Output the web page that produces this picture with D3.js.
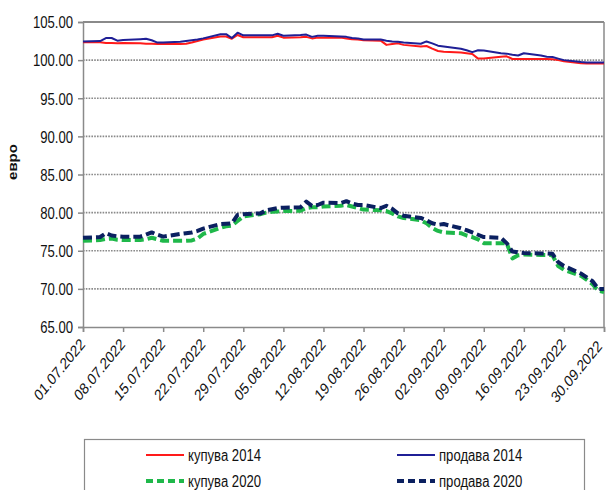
<!DOCTYPE html>
<html><head><meta charset="utf-8">
<script src="https://cdn.jsdelivr.net/npm/d3@7"></script>
<style>body{margin:0;background:#fff;overflow:hidden}</style>
</head><body><svg id="c" width="607" height="490"></svg>
<script>
const dates = ["01.07.2022","04.07.2022","05.07.2022","06.07.2022","07.07.2022","08.07.2022",
"11.07.2022","12.07.2022","13.07.2022","14.07.2022","15.07.2022",
"18.07.2022","19.07.2022","20.07.2022","21.07.2022","22.07.2022",
"25.07.2022","26.07.2022","27.07.2022","28.07.2022","29.07.2022",
"01.08.2022","02.08.2022","03.08.2022","04.08.2022","05.08.2022",
"08.08.2022","09.08.2022","10.08.2022","11.08.2022","12.08.2022",
"15.08.2022","16.08.2022","17.08.2022","18.08.2022","19.08.2022",
"22.08.2022","23.08.2022","24.08.2022","25.08.2022","26.08.2022",
"29.08.2022","30.08.2022","31.08.2022","01.09.2022","02.09.2022",
"05.09.2022","06.09.2022","07.09.2022","08.09.2022","09.09.2022",
"12.09.2022","13.09.2022","14.09.2022","15.09.2022","16.09.2022",
"19.09.2022","20.09.2022","21.09.2022","22.09.2022","23.09.2022",
"26.09.2022","27.09.2022","28.09.2022","29.09.2022","30.09.2022"];

const buy2014 = [102.35,102.35,102.25,102.25,102.2,102.25,
102.2,102.15,102.15,102.1,102.1,
102.1,102.15,102.3,102.5,102.7,
103.1,103.1,102.8,103.3,103.0,
103.0,103.0,103.0,103.2,102.95,
103.0,103.05,102.85,102.95,102.95,
102.95,102.85,102.75,102.7,102.6,
102.55,102.0,102.1,102.2,102.0,
101.8,101.85,101.5,101.2,101.1,
101.0,100.9,100.8,100.2,100.2,
100.45,100.5,100.15,100.15,100.15,
100.15,100.15,100.1,100.0,99.85,
99.6,99.55,99.55,99.55,99.55];

const sell2014 = [102.45,102.5,102.9,102.9,102.55,102.65,
102.75,102.8,102.6,102.3,102.3,
102.4,102.5,102.6,102.7,102.85,
103.4,103.4,102.9,103.6,103.25,
103.25,103.25,103.25,103.45,103.2,
103.3,103.35,103.05,103.2,103.2,
103.1,103.05,102.9,102.85,102.7,
102.7,102.55,102.45,102.4,102.3,
102.15,102.45,102.2,101.9,101.8,
101.5,101.3,101.05,101.3,101.25,
100.9,100.85,100.7,100.6,100.9,
100.6,100.45,100.4,100.2,100.0,
99.75,99.7,99.7,99.7,99.7];

const buy2020 = [76.3,76.4,76.55,76.6,76.45,76.4,
76.4,76.5,76.7,76.5,76.3,
76.3,76.3,76.35,76.6,77.2,
78.0,78.2,78.3,78.9,79.5,
79.8,80.0,80.1,80.15,80.2,
80.25,80.6,80.7,80.7,80.8,
80.9,81.0,80.8,80.6,80.4,
80.3,80.2,79.9,79.5,79.3,
79.0,78.6,78.0,77.6,77.4,
77.3,77.0,76.8,76.5,76.0,
76.0,76.0,74.0,74.4,74.5,
74.45,74.45,74.4,73.0,72.5,
71.7,71.2,70.6,69.75,69.6];

const sell2020 = [76.7,76.8,77.3,77.0,76.9,76.85,
76.85,77.1,77.4,77.1,76.85,
77.2,77.3,77.4,77.6,77.9,
78.5,78.55,78.6,79.7,79.8,
79.9,80.3,80.45,80.6,80.65,
80.7,81.45,80.9,81.0,81.3,
81.25,81.5,81.2,81.0,81.0,
80.6,80.9,80.5,79.9,79.6,
79.3,79.0,78.6,78.4,78.5,
77.95,77.7,77.4,77.1,76.8,
76.7,76.0,74.9,74.8,74.7,
74.65,74.65,74.6,73.5,73.0,
72.0,71.5,71.0,70.0,70.0];

const yTicks = [65,70,75,80,85,90,95,100,105];
const xTickLabels = ["01.07.2022","08.07.2022","15.07.2022","22.07.2022","29.07.2022",
"05.08.2022","12.08.2022","19.08.2022","26.08.2022","02.09.2022","09.09.2022",
"16.09.2022","23.09.2022","30.09.2022"];
const seriesNames = ["купува 2014","продава 2014","купува 2020","продава 2020"];
const yTitle = "евро";

const parse = d3.timeParse("%d.%m.%Y");
const fmt = d3.timeFormat("%d.%m.%Y");
const SX = 0.82; // horizontal compression of text
const FONT = "'Liberation Sans', Arial, sans-serif";

const svg = d3.select("#c");
const L = 83, R = 604, T = 22, B = 327;
const x = d3.scaleTime().domain([parse(xTickLabels[0]), parse(xTickLabels[xTickLabels.length-1])]).range([L, R]);
const y = d3.scaleLinear().domain([65,105]).range([B, T]);

// gridlines
svg.append("g").selectAll("line").data(yTicks.filter(v => v > 65 && v < 105)).join("line")
  .attr("x1", L).attr("x2", R).attr("y1", d => y(d)).attr("y2", d => y(d))
  .attr("stroke", "#8a8a8a").attr("stroke-width", 1.6).attr("stroke-dasharray", "1.6,1.2");

// frame top & right
svg.append("line").attr("x1", L).attr("x2", R).attr("y1", y(105)).attr("y2", y(105))
  .attr("stroke", "#8a8a8a").attr("stroke-width", 2);
svg.append("line").attr("x1", R).attr("x2", R).attr("y1", T).attr("y2", B)
  .attr("stroke", "#8a8a8a").attr("stroke-width", 1.5);

// y axis
const yAxis = svg.append("g").attr("transform", `translate(${L},0)`)
  .call(d3.axisLeft(y).tickValues(yTicks).tickFormat(d3.format(".2f")).tickSize(5).tickPadding(0));
yAxis.selectAll("path,line").attr("stroke", "#8a8a8a").attr("stroke-width", 1.5);
yAxis.selectAll("text").attr("font-family", FONT).attr("font-size", 16).attr("fill", "#111")
  .attr("text-anchor", "end").attr("x", null).attr("dy", "0.36em")
  .attr("transform", `translate(-10,0) scale(${SX},1)`);

// x axis
const xAxis = svg.append("g").attr("transform", `translate(0,${B})`)
  .call(d3.axisBottom(x).tickValues(xTickLabels.map(parse)).tickFormat(fmt).tickSize(5).tickPadding(0));
xAxis.selectAll("path,line").attr("stroke", "#8a8a8a").attr("stroke-width", 1.5);
const nX = xTickLabels.length;
xAxis.selectAll("text").attr("font-family", FONT).attr("font-size", 16).attr("fill", "#111")
  .attr("text-anchor", "end").attr("y", null).attr("dy", "0.36em")
  .attr("transform", (d, i) => `translate(${i === nX - 1 ? -5 : -1},${i === nX - 1 ? 16 : 14}) scale(${SX},1) rotate(-45)`);

// y title
svg.append("text").attr("transform", `translate(17,162) scale(${SX},1) rotate(-90)`)
  .attr("text-anchor", "middle").attr("font-family", FONT).attr("font-weight", "bold")
  .attr("font-size", 15).attr("fill", "#111").text(yTitle);

// lines
const pts = vals => vals.map((v, i) => [parse(dates[i]), v]);
const line = d3.line().x(d => x(d[0])).y(d => y(d[1]));
const styles = [
  {vals: buy2014, color: "#ff1a1a", w: 2, dash: null},
  {vals: sell2014, color: "#1f1f96", w: 2, dash: null},
  {vals: buy2020, color: "#1fb84a", w: 4, dash: "9,4"},
  {vals: sell2020, color: "#0b2060", w: 4, dash: "9,4"}
];
styles.forEach(s => {
  svg.append("path").attr("d", line(pts(s.vals))).attr("fill", "none")
    .attr("stroke", s.color).attr("stroke-width", s.w)
    .attr("stroke-linejoin", "round")
    .attr("stroke-dasharray", s.dash);
});

// legend
svg.append("rect").attr("x", 84.5).attr("y", 439.5).attr("width", 500).attr("height", 80)
  .attr("fill", "none").attr("stroke", "#8a8a8a").attr("stroke-width", 1.2);
const legPos = [[146, 455], [397, 455], [146, 481], [397, 481]];
styles.forEach((s, i) => {
  const [lx, ly] = legPos[i];
  svg.append("line").attr("x1", lx).attr("x2", lx + 38).attr("y1", ly).attr("y2", ly)
    .attr("stroke", s.color).attr("stroke-width", s.dash ? 4 : 2)
    .attr("stroke-dasharray", s.dash ? "7,4" : null);
  svg.append("text").attr("transform", `translate(${lx + 42},${ly}) scale(${SX},1)`)
    .attr("dy", "0.36em").attr("font-family", FONT).attr("font-size", 16).attr("fill", "#111")
    .text(seriesNames[i]);
});
</script></body></html>
